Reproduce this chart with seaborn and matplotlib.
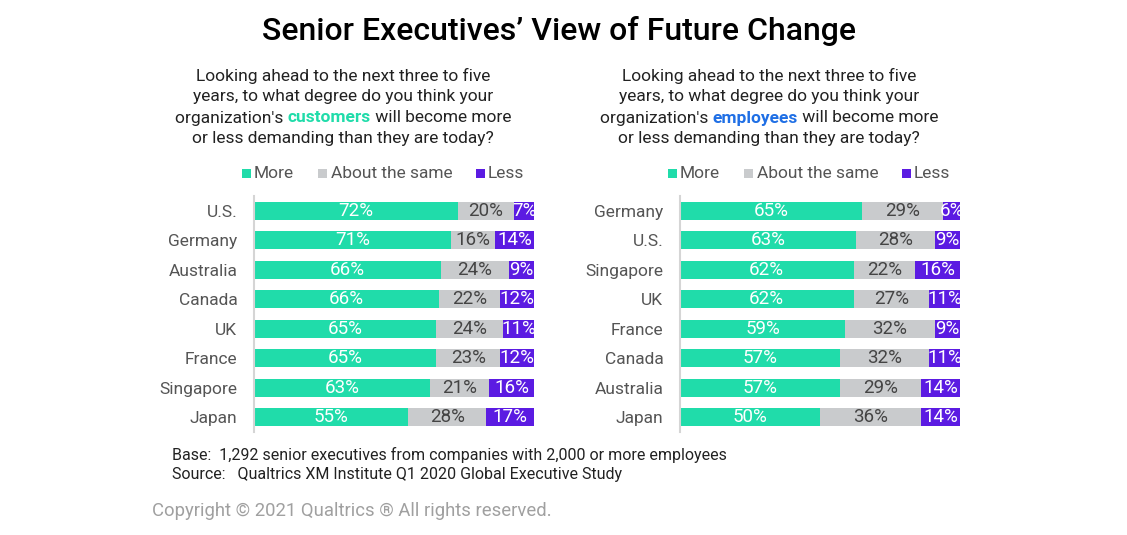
import numpy as np
import pandas as pd
import matplotlib
matplotlib.use("Agg")
import matplotlib.pyplot as plt
from matplotlib.patches import Rectangle
import seaborn as sns

# ---------------- data ----------------
cust_countries = ["U.S.", "Germany", "Australia", "Canada", "UK", "France", "Singapore", "Japan"]
cust_more = [72, 71, 66, 66, 65, 65, 63, 55]
cust_same = [20, 16, 24, 22, 24, 23, 21, 28]
cust_less = [7, 14, 9, 12, 11, 12, 16, 17]

emp_countries = ["Germany", "U.S.", "Singapore", "UK", "France", "Canada", "Australia", "Japan"]
emp_more = [65, 63, 62, 62, 59, 57, 57, 50]
emp_same = [29, 28, 22, 27, 32, 32, 29, 36]
emp_less = [6, 9, 16, 11, 9, 11, 14, 14]

legend_labels = ["More", "About the same", "Less"]

title = "Senior Executives\u2019 View of Future Change"
base_note = "Base:  1,292 senior executives from companies with 2,000 or more employees"
source_note = "Source:   Qualtrics XM Institute Q1 2020 Global Executive Study"
copyright_note = "Copyright \u00a9 2021 Qualtrics \u00ae All rights reserved."

GREEN = "#20DCAA"
GRAY = "#C9CBCD"
PURPLE = "#5B1BE2"
BLUE = "#1F6FE5"
TXT = "#222222"
LBL = "#555555"

W, H = 1127, 535
sns.set_theme(style="white")
plt.rcParams["font.family"] = ["Roboto", "DejaVu Sans"]

fig = plt.figure(figsize=(W / 100, H / 100), dpi=100)


def fx(x):
    return x / W


def fy(y):
    return 1 - y / H


def draw_panel(left_px, countries, more, same, less):
    ax = fig.add_axes([fx(left_px), fy(432), 280 / W, (432 - 196) / H])
    more = np.array(more, dtype=float)
    same = np.array(same, dtype=float)
    less = np.array(less, dtype=float)
    total = more + same + less
    # each row is drawn as a share of its own total (bars span full width)
    m_sh = more / total * 100
    s_sh = same / total * 100
    l_sh = less / total * 100
    df = pd.DataFrame({"country": countries, "total": m_sh + s_sh + l_sh,
                       "ms": m_sh + s_sh, "more": m_sh})
    # layered: full bar (less), more+same (same), more
    for col, color in [("total", PURPLE), ("ms", GRAY), ("more", GREEN)]:
        sns.barplot(data=df, x=col, y="country", orient="h", color=color,
                    width=0.62, saturation=1, ax=ax, linewidth=0)
    ax.set_xlim(0, 100)
    ax.set_ylim(len(countries) - 0.5, -0.5)
    ax.set_xlabel("")
    ax.set_ylabel("")
    ax.set_xticks([])
    for s in ["top", "right", "bottom"]:
        ax.spines[s].set_visible(False)
    ax.spines["left"].set_color("#D5D5D5")
    ax.spines["left"].set_linewidth(1.5)
    ax.tick_params(axis="y", length=0, pad=12, labelsize=12.5, labelcolor=LBL)
    fs = 13.5
    for i in range(len(countries)):
        ax.text(m_sh[i] / 2, i, f"{int(more[i])}%", ha="center", va="center",
                color="white", fontsize=fs)
        ax.text(m_sh[i] + s_sh[i] / 2, i, f"{int(same[i])}%", ha="center", va="center",
                color="#444444", fontsize=fs)
        ax.text(m_sh[i] + s_sh[i] + l_sh[i] / 2, i, f"{int(less[i])}%", ha="center",
                va="center", color="white", fontsize=fs)
    return ax


draw_panel(254, cust_countries, cust_more, cust_same, cust_less)
draw_panel(680, emp_countries, emp_more, emp_same, emp_less)

# title
fig.text(fx(559), fy(31), title, ha="center", va="center", fontsize=23,
         fontweight="medium", color="black")

# question text
renderer = fig.canvas.get_renderer()


def question(cx, word, wcolor):
    lines = ["Looking ahead to the next three to five",
             "years, to what degree do you think your"]
    ys = [76, 97, 118, 139]
    fs = 12.5
    for t, y in zip(lines, ys[:2]):
        fig.text(fx(cx), fy(y), t, ha="center", va="center", fontsize=fs, color=TXT)
    fig.text(fx(cx), fy(ys[3]), "or less demanding than they are today?", ha="center",
             va="center", fontsize=fs, color=TXT)
    parts = [("organization's ", TXT, "normal"), (word, wcolor, "bold"),
             (" will become more", TXT, "normal")]
    widths = []
    for t, c, w in parts:
        tt = fig.text(0, 0, t, fontsize=fs, fontweight=w)
        bb = tt.get_window_extent(renderer)
        widths.append(bb.width)
        tt.remove()
    x = cx - sum(widths) / 2
    for (t, c, w), wd in zip(parts, widths):
        fig.text(fx(x), fy(ys[2]), t, ha="left", va="center", fontsize=fs,
                 fontweight=w, color=c)
        x += wd


question(343, "customers", GREEN)
question(769, "employees", BLUE)


def legend(positions):
    colors = [GREEN, GRAY, PURPLE]
    for (sx, tx), lab, c in zip(positions, legend_labels, colors):
        fig.add_artist(Rectangle((fx(sx), fy(178)), 9 / W, 9 / H,
                                 transform=fig.transFigure, color=c, lw=0))
        fig.text(fx(tx), fy(173), lab, ha="left", va="center", fontsize=12.5, color=LBL)


legend([(242, 254), (318, 331), (476, 488)])
legend([(668, 680), (744, 757), (902, 914)])

# notes
fig.text(fx(172), fy(455), base_note, ha="left", va="center", fontsize=11.5, color=TXT)
fig.text(fx(172), fy(474), source_note, ha="left", va="center", fontsize=11.5, color=TXT)
fig.text(fx(152), fy(511), copyright_note, ha="left", va="center", fontsize=13.3,
         color="#A0A0A0")

fig.savefig("out.png", dpi=100)
